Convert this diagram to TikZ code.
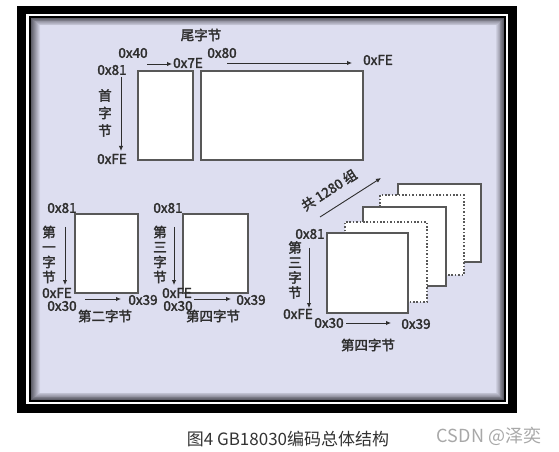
\documentclass[tikz,border=0pt]{standalone}
\usepackage{fontspec}
\newfontfamily\cjk{Noto Sans CJK SC}
\newfontfamily\cjkb[FakeBold=2.2]{Noto Sans CJK SC}
\usetikzlibrary{arrows.meta}
\definecolor{lav}{HTML}{DDDEF0}
\definecolor{shadowc}{HTML}{5E5E68}
\definecolor{txt}{HTML}{2E2E2E}
\definecolor{boxc}{HTML}{585858}
\definecolor{capc}{HTML}{333333}
\definecolor{wmc}{HTML}{A8A8A8}
\tikzset{
  box/.style={draw=boxc, fill=white, line width=1.5bp, inner sep=0pt, outer sep=0pt},
  dbox/.style={box, dash pattern=on 1.6bp off 1.8bp},
  num/.style={font=\cjkb\fontsize{13.5bp}{15bp}\selectfont, text=txt, inner sep=0pt},
  han/.style={font=\cjkb\fontsize{13.5bp}{15bp}\selectfont, text=txt, inner sep=0pt},
  vhan/.style={han, align=center},
  arr/.style={draw=txt, line width=0.9bp, -{Latex[length=5bp,width=4.5bp]}},
}
\newcommand\rbox[6][box]{\node[#1, minimum width={(#5-#3)*1bp}, minimum height={(#6-#4)*1bp}] (#2) at ({(#3+#5)/2},{(#4+#6)/2}) {};}
\begin{document}
\begin{tikzpicture}[x=1bp,y=-1bp]
\useasboundingbox (0,0) rectangle (559,452);
\fill[white] (0,0) rectangle (559,452);
% frame
\fill[black] (17,6) rectangle (517,413);
\fill[white] (26,14) rectangle (508,404);
\fill[black] (28.5,16.3) rectangle (505.5,401.7);
\foreach \i in {0,...,9}{
  \pgfmathtruncatemacro\p{100-\i*11}
  \fill[shadowc!\p!lav] ({30.5+\i},{18.3+\i*0.8}) rectangle ({503.5-\i*0.8},{399.7-\i*0.8});
}
\fill[lav] (40.5,26.3) rectangle (495.5,391.7);

% top section
\rbox{t1}{138}{71}{193}{160}
\rbox{t2}{201}{71}{363}{160}
\node[han] (wei) at (201,35) {尾字节};
\node[num] (l40) at (133,53) {0x40};
\node[num] (l81a) at (112,70) {0x81};
\node[num] (l7e) at (188,63) {0x7E};
\node[num] (l80) at (222,53) {0x80};
\node[num] (lfe1) at (378,60) {0xFE};
\node[num] (lfe2) at (112,159) {0xFE};
\node[vhan, font=\cjkb\fontsize{13.5bp}{17.5bp}\selectfont] (shou) at (105,113) {首\\字\\节};
\coordinate (a1s) at (147,64); \coordinate (a1e) at (172,64);
\coordinate (a2s) at (227,63); \coordinate (a2e) at (352,63);
\coordinate (a3s) at (121,77); \coordinate (a3e) at (121,151);
\draw[arr] (a1s) -- (a1e);
\draw[arr] (a2s) -- (a2e);
\draw[arr] (a3s) -- (a3e);

% bottom-left A
\rbox{ba}{75}{214}{138}{293}
\node[num] (a81) at (62,208) {0x81};
\node[vhan] (a1) at (49,254.5) {第\\一\\字\\节};
\node[num] (afe) at (57,293) {0xFE};
\node[num] (a30) at (62,306) {0x30};
\node[num] (a39) at (143,300) {0x39};
\node[han] (a2b) at (105,316) {第二字节};
\coordinate (av1) at (65,227); \coordinate (av2) at (65,285);
\coordinate (ah1) at (85,299); \coordinate (ah2) at (121,299);
\draw[arr] (av1) -- (av2);
\draw[arr] (ah1) -- (ah2);

% bottom-left B
\rbox{bb}{183}{214}{248}{293}
\node[num] (b81) at (168,208) {0x81};
\node[vhan] (b1) at (160,254.5) {第\\三\\字\\节};
\node[num] (bfe) at (177,293) {0xFE};
\node[num] (b30) at (178,306) {0x30};
\node[num] (b39) at (251,300) {0x39};
\node[han] (b4b) at (213,316) {第四字节};
\coordinate (bv1) at (174,227); \coordinate (bv2) at (174,285);
\coordinate (bh1) at (194,299); \coordinate (bh2) at (231,299);
\draw[arr] (bv1) -- (bv2);
\draw[arr] (bh1) -- (bh2);

% right stack
\rbox{s4}{398}{184}{481}{262}
\rbox[dbox]{s3}{380}{195}{464}{275}
\rbox{s2}{363}{207}{446}{286}
\rbox[dbox]{s1}{345}{222}{427}{302}
\rbox{s0}{327}{233}{408}{313}
\node[num] (c81) at (310,234) {0x81};
\node[vhan] (c1) at (295,270) {第\\三\\字\\节};
\node[num] (cfe) at (298,314) {0xFE};
\node[num] (c30) at (329,323) {0x30};
\node[num] (c39) at (416,324) {0x39};
\node[han] (c4b) at (368,345) {第四字节};
\node[han, rotate=33] (gong) at (329,190) {共 1280 组};
\coordinate (cv1) at (309,248); \coordinate (cv2) at (309,308);
\coordinate (ch1) at (346,323); \coordinate (ch2) at (391,323);
\coordinate (cd1) at (320,217); \coordinate (cd2) at (381,178);
\draw[arr] (cv1) -- (cv2);
\draw[arr] (ch1) -- (ch2);
\draw[arr] (cd1) -- (cd2);

% caption
\node[font=\cjk\fontsize{17bp}{19bp}\selectfont, text=capc, inner sep=0pt] (cap) at (288,439) {图4 GB18030编码总体结构};
\node[font=\cjk\fontsize{18bp}{20bp}\selectfont, text=wmc, inner sep=0pt] (wm) at (489,436) {CSDN @泽奕};
\end{tikzpicture}
\end{document}
